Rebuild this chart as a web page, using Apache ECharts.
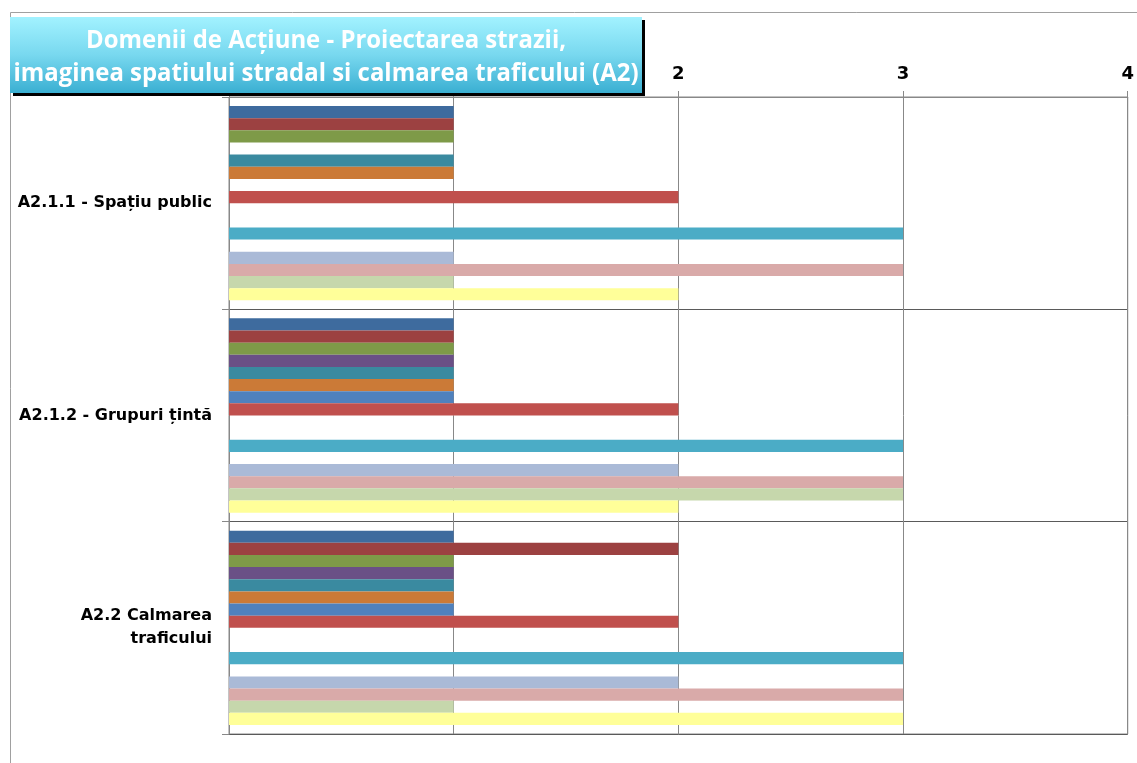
<!DOCTYPE html>
<html>
<head>
<meta charset="utf-8">
<script src="https://cdn.jsdelivr.net/npm/echarts@6/dist/echarts.min.js"></script>
<style>
html,body{margin:0;padding:0;background:#fff;}
#chart{width:1137px;height:763px;}
</style>
</head>
<body>
<div id="chart"></div>
<script>
// ---- data ----
const categories = ['A2.1.1 - Spațiu public', 'A2.1.2 - Grupuri țintă', 'A2.2 Calmarea\ntraficului'];
const xTicks = [0, 1, 2, 3, 4];
const titleLines = ['Domenii de Acțiune - Proiectarea strazii,', 'imaginea spatiului stradal si calmarea traficului (A2)'];
const seriesNames = ['S1','S2','S3','S4','S5','S6','S7','S8','S9','S10','S11','S12','S13','S14','S15','S16'];
const s1  = [1, 1, 1];
const s2  = [1, 1, 2];
const s3  = [1, 1, 1];
const s4  = [null, 1, 1];
const s5  = [1, 1, 1];
const s6  = [1, 1, 1];
const s7  = [null, 1, 1];
const s8  = [2, 2, 2];
const s9  = [null, null, null];
const s10 = [null, null, null];
const s11 = [3, 3, 3];
const s12 = [null, null, null];
const s13 = [1, 2, 2];
const s14 = [3, 3, 3];
const s15 = [1, 3, 1];
const s16 = [2, 2, 3];
const seriesValues = [s1,s2,s3,s4,s5,s6,s7,s8,s9,s10,s11,s12,s13,s14,s15,s16];
const colors = ['#3e6b9e','#9c4141','#7e9a48','#6a5086','#3a8aa0','#cb7a37','#4f81bd','#c0504d',
                '#9bbb59','#8064a2','#4bacc6','#f79646','#aabad7','#d9aaa9','#c6d7ac','#ffff99'];

// measure title text to fit the box width (reference text is a condensed face)
const titleFont = 'bold 25px "Open Sans"';
const mctx = document.createElement('canvas').getContext('2d');
mctx.font = titleFont;
const w1 = mctx.measureText(titleLines[0]).width;
const w2 = mctx.measureText(titleLines[1]).width;
const sx = 625 / w2;

const chart = echarts.init(document.getElementById('chart'), null, {renderer:'canvas'});
const series = seriesValues.map((vals, i) => ({
  name: seriesNames[i],
  type: 'bar',
  data: vals,
  barGap: '0%',
  barCategoryGap: '8.5%',
  itemStyle: {color: colors[i]},
  silent: true
}));

chart.setOption({
  animation: false,
  grid: {left: 229, right: 6, top: 97, bottom: 29, show: true, borderColor: '#888', borderWidth: 1, containLabel: false},
  xAxis: {
    type: 'value', position: 'top', min: xTicks[0], max: xTicks[xTicks.length-1], interval: 1,
    axisLine: {show: true, lineStyle: {color: '#888'}},
    axisTick: {show: true, length: 6, lineStyle: {color: '#888'}},
    axisLabel: {color: '#000', fontFamily: 'DejaVu Sans', fontWeight: 'bold', fontSize: 18, margin: 14},
    splitLine: {show: true, lineStyle: {color: '#888', width: 1}}
  },
  yAxis: {
    type: 'category', data: categories, inverse: true,
    axisLine: {show: true, lineStyle: {color: '#888'}},
    axisTick: {show: true, length: 7, lineStyle: {color: '#888'}},
    axisLabel: {color: '#000', fontFamily: 'DejaVu Sans', fontWeight: 'bold', fontSize: 16, margin: 17, align: 'right', lineHeight: 23},
    splitLine: {show: true, lineStyle: {color: '#5a5a5a', width: 1}}
  },
  series: series,
  graphic: [
    {type: 'rect', z: 0, silent: true, shape: {x: 10.5, y: 12.5, width: 1200, height: 800},
     style: {fill: 'none', stroke: '#a0a0a0', lineWidth: 1}},
    {type: 'rect', zlevel: 5, silent: true, shape: {x: 10, y: 17, width: 632, height: 76},
     style: {
       fill: new echarts.graphic.LinearGradient(0, 0, 0, 1, [
         {offset: 0, color: '#a2f2ff'}, {offset: 0.5, color: '#78d8ef'}, {offset: 1, color: '#3aafd2'}
       ]),
       shadowColor: '#000', shadowOffsetX: 3, shadowOffsetY: 3, shadowBlur: 0
     }},
    {type: 'text', zlevel: 5, z: 10, silent: true, x: 326, y: 41, scaleX: sx,
     style: {x: 0, y: 0, text: titleLines[0], fill: '#fff', font: titleFont, textAlign: 'center', textVerticalAlign: 'middle'}},
    {type: 'text', zlevel: 5, z: 10, silent: true, x: 326, y: 74, scaleX: sx,
     style: {x: 0, y: 0, text: titleLines[1], fill: '#fff', font: titleFont, textAlign: 'center', textVerticalAlign: 'middle'}}
  ]
});
</script>
</body>
</html>
